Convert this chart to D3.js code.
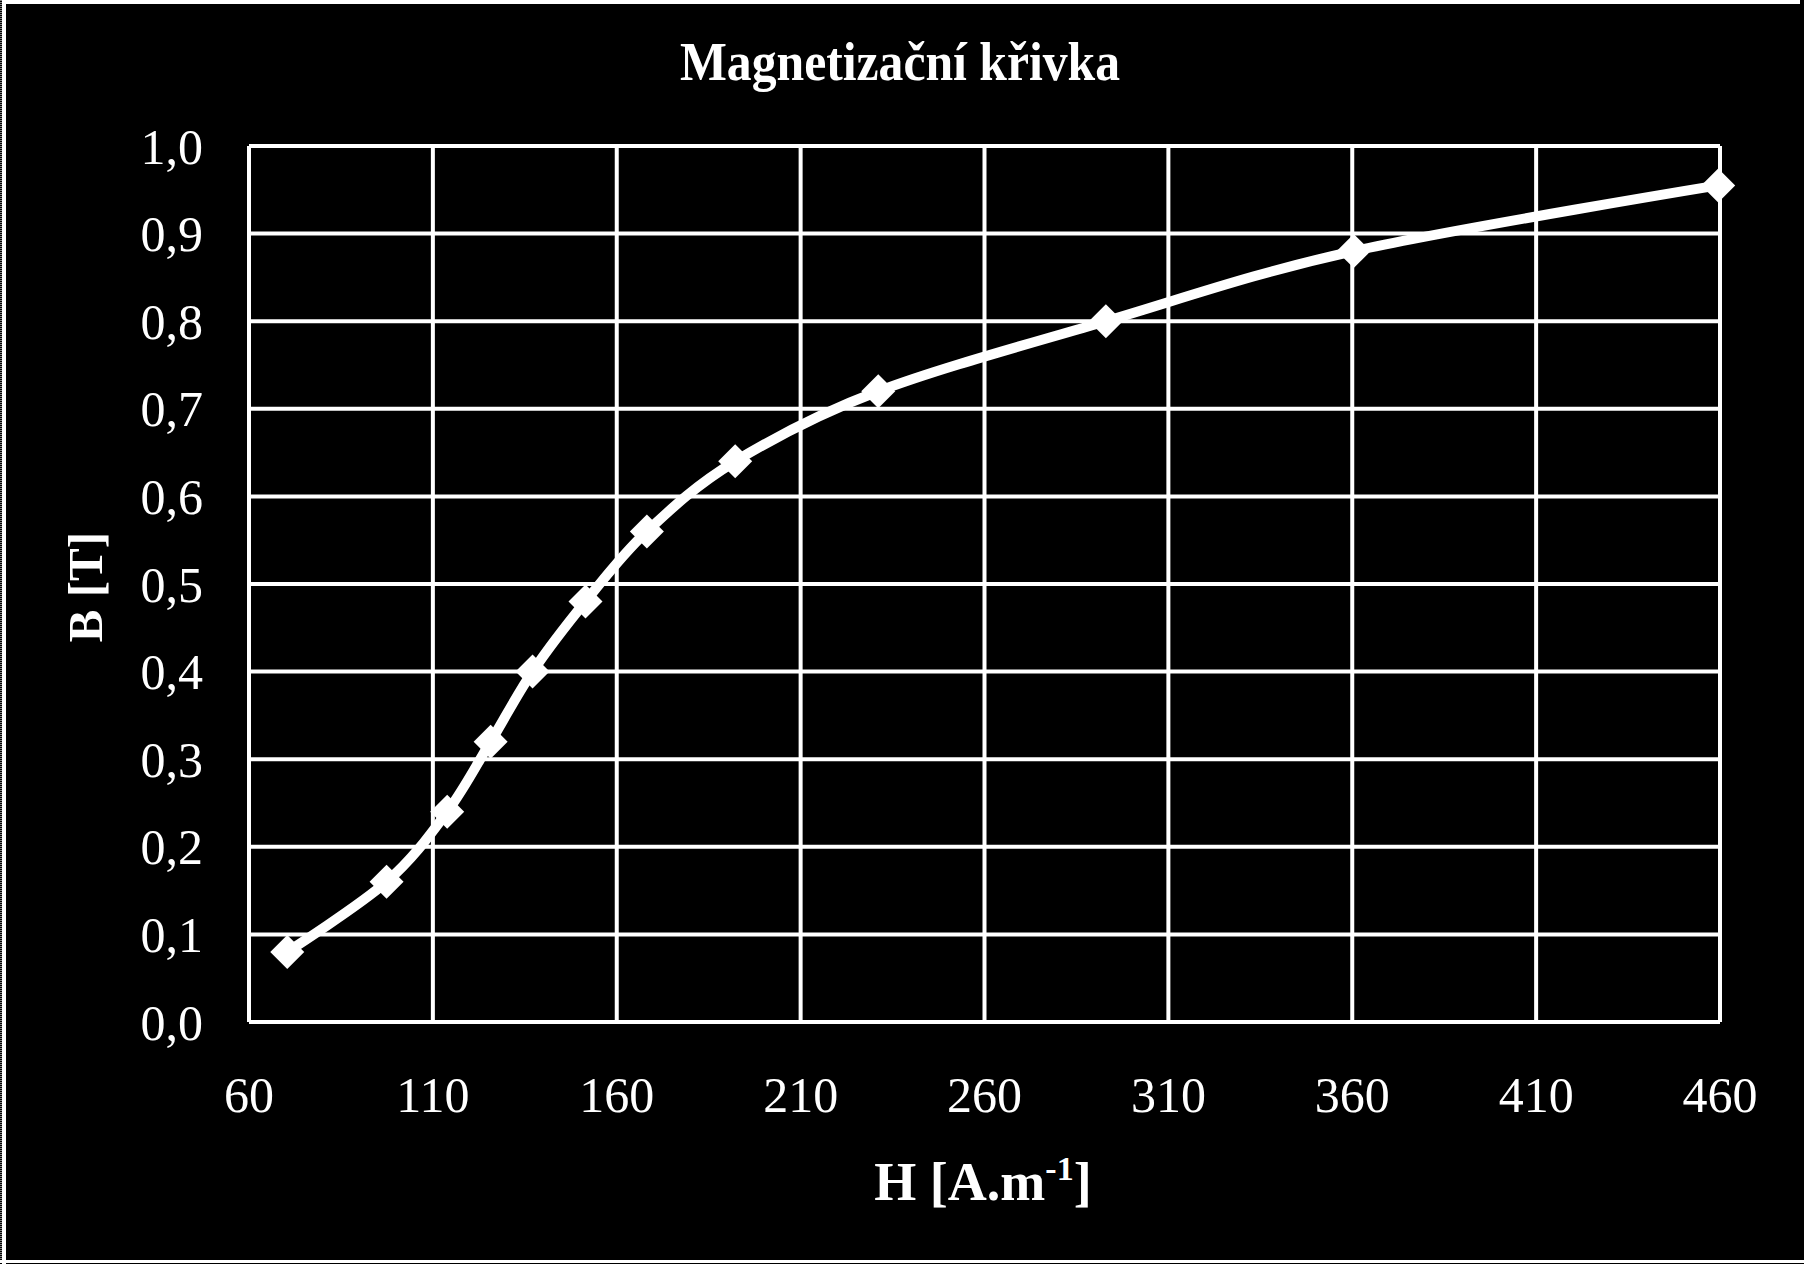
<!DOCTYPE html>
<html>
<head>
<meta charset="utf-8">
<script src="https://cdn.jsdelivr.net/npm/d3@7"></script>
<style>
  body { margin: 0; background: #000; }
  svg { display: block; }
  text { font-family: "Liberation Serif", "Times New Roman", serif; fill: #fff; }
</style>
</head>
<body>
<svg width="1804" height="1264"></svg>
<script>
// values
const hValues = [70.4, 97.4, 113.9, 125.7, 137.1, 151.5, 168.2, 192.2, 231.1, 293.0, 360.4, 459.5];
const bValues = [0.08, 0.16, 0.24, 0.32, 0.40, 0.48, 0.56, 0.64, 0.72, 0.80, 0.88, 0.955];
const xTicks = [60, 110, 160, 210, 260, 310, 360, 410, 460];
const yTicks = [0, 0.1, 0.2, 0.3, 0.4, 0.5, 0.6, 0.7, 0.8, 0.9, 1.0];

const data = hValues.map((h, i) => ({ x: h, y: bValues[i] }));

const svg = d3.select("svg"),
  width = +svg.attr("width"),
  height = +svg.attr("height");

svg.append("rect")
  .attr("width", width).attr("height", height).attr("fill", "#000");

// outer frame (top, bottom, left; left one with a dotted edge)
svg.append("line").attr("x1", 2).attr("x2", 1800).attr("y1", 2).attr("y2", 2)
  .attr("stroke", "#fff").attr("stroke-width", 4);
svg.append("line").attr("x1", 0).attr("x2", width).attr("y1", 1261.5).attr("y2", 1261.5)
  .attr("stroke", "#fff").attr("stroke-width", 3);
svg.append("line").attr("x1", 4).attr("x2", 4).attr("y1", 0).attr("y2", height)
  .attr("stroke", "#fff").attr("stroke-width", 4);
svg.append("line").attr("x1", 1).attr("x2", 1).attr("y1", 0).attr("y2", height)
  .attr("stroke", "#fff").attr("stroke-width", 1).attr("stroke-dasharray", "1,1");

const plot = { left: 249, right: 1720, top: 146, bottom: 1022 };

const xScale = d3.scaleLinear().domain([60, 460]).range([plot.left, plot.right]);
const yScale = d3.scaleLinear().domain([0, 1]).range([plot.bottom, plot.top]);

const fmt = d => d.toFixed(1).replace(".", ",");

// grid
svg.append("g")
  .selectAll("line")
  .data(yTicks)
  .join("line")
  .attr("x1", plot.left).attr("x2", plot.right)
  .attr("y1", d => yScale(d)).attr("y2", d => yScale(d))
  .attr("stroke", "#fff").attr("stroke-width", 4);

svg.append("g")
  .selectAll("line")
  .data(xTicks)
  .join("line")
  .attr("x1", d => xScale(d)).attr("x2", d => xScale(d))
  .attr("y1", plot.top).attr("y2", plot.bottom)
  .attr("stroke", "#fff").attr("stroke-width", 4);

// y tick labels
svg.append("g")
  .selectAll("text")
  .data(yTicks)
  .join("text")
  .attr("x", 203)
  .attr("y", d => yScale(d))
  .attr("dy", "0.35em")
  .attr("text-anchor", "end")
  .style("font-size", "50px")
  .text(fmt);

// x tick labels
svg.append("g")
  .selectAll("text")
  .data(xTicks)
  .join("text")
  .attr("x", d => xScale(d))
  .attr("y", 1112)
  .attr("text-anchor", "middle")
  .style("font-size", "50px")
  .text(d => d);

// smoothed line
const line = d3.line()
  .x(d => xScale(d.x))
  .y(d => yScale(d.y))
  .curve(d3.curveCardinal);

svg.append("path")
  .datum(data)
  .attr("d", line)
  .attr("fill", "none")
  .attr("stroke", "#fff")
  .attr("stroke-width", 10);

// diamond markers
svg.append("g")
  .selectAll("path")
  .data(data)
  .join("path")
  .attr("transform", d => `translate(${xScale(d.x)},${yScale(d.y)})`)
  .attr("d", "M0,-17L17,0L0,17L-17,0Z")
  .attr("fill", "#fff");

// title
svg.append("text")
  .attr("x", 900)
  .attr("y", 80)
  .attr("text-anchor", "middle")
  .attr("textLength", 440)
  .attr("lengthAdjust", "spacingAndGlyphs")
  .style("font-size", "54px")
  .style("font-weight", "bold")
  .text("Magnetizační křivka");

// axis titles
const xt = svg.append("text")
  .attr("x", 983)
  .attr("y", 1200)
  .attr("text-anchor", "middle")
  .style("font-size", "54px")
  .style("font-weight", "bold");
xt.append("tspan").text("H [A.m");
xt.append("tspan").attr("dy", -20).style("font-size", "34px").text("-1");
xt.append("tspan").attr("dy", 20).text("]");

svg.append("text")
  .attr("transform", "translate(102,587) rotate(-90)")
  .attr("text-anchor", "middle")
  .style("font-size", "49px")
  .style("font-weight", "bold")
  .text("B [T]");
</script>
</body>
</html>
